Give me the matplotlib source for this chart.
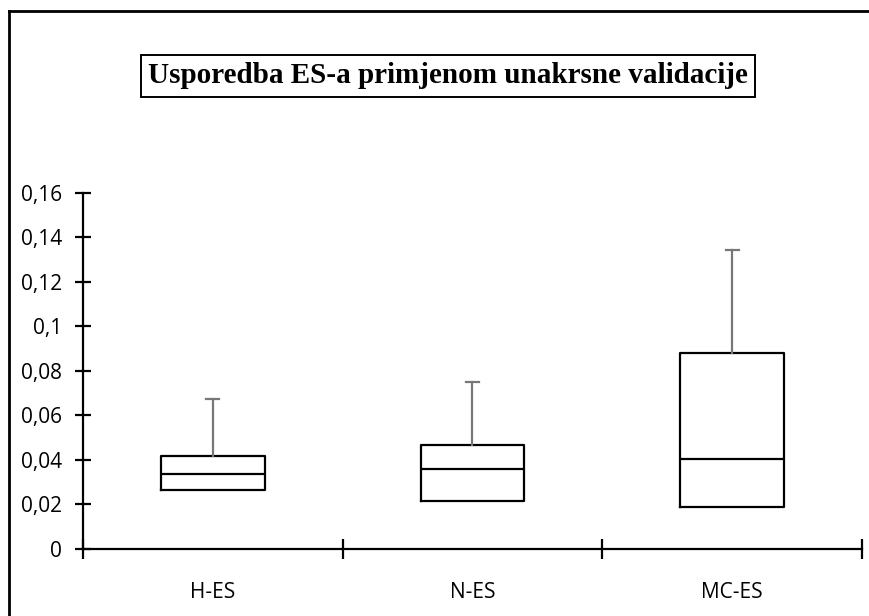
import matplotlib.pyplot as plt
from matplotlib.ticker import FuncFormatter
from matplotlib.lines import Line2D

# data (box = Q1..Q3, median, top whisker)
categories = ["H-ES", "N-ES", "MC-ES"]
q1 = [0.0265, 0.0217, 0.0190]
medians = [0.0337, 0.0360, 0.0404]
q3 = [0.0420, 0.0467, 0.0881]
whisker_top = [0.0674, 0.0750, 0.1344]

fig = plt.figure(figsize=(8.7, 6.16), dpi=100)
ax = fig.add_axes([0.0954, 0.1088, 0.8954, 0.5779])

stats = []
for name, lo, med, hi, top in zip(categories, q1, medians, q3, whisker_top):
    stats.append(dict(label=name, q1=lo, med=med, q3=hi, whislo=lo, whishi=top, fliers=[]))

res = ax.bxp(stats, positions=[1, 2, 3], widths=0.4, showfliers=False, patch_artist=False,
             boxprops=dict(color="black", linewidth=1.6),
             medianprops=dict(color="black", linewidth=1.6),
             whiskerprops=dict(color="#777777", linewidth=1.6),
             capprops=dict(color="#777777", linewidth=1.6),
             capwidths=0.05)
# no lower whiskers/caps in the reference
for w in res["whiskers"][0::2]:
    w.set_visible(False)
for c in res["caps"][0::2]:
    c.set_visible(False)

ax.set_xlim(0.5, 3.5)
ax.set_ylim(0, 0.16)
ax.set_yticks([0, 0.02, 0.04, 0.06, 0.08, 0.1, 0.12, 0.14, 0.16])
ax.yaxis.set_major_formatter(FuncFormatter(lambda v, p: ("%g" % round(v, 2)).replace(".", ",")))
ax.set_xticks([0.5, 1.5, 2.5, 3.5])
ax.set_xticklabels([])
ax.set_xticks([1, 2, 3], minor=True)
ax.set_xticklabels(categories, minor=True)

for s in ["top", "right"]:
    ax.spines[s].set_visible(False)
for s in ["left", "bottom"]:
    ax.spines[s].set_linewidth(1.6)
ax.tick_params(axis="y", direction="inout", length=12, width=1.6, pad=9,
               labelsize=15, labelfontfamily="Open Sans")
ax.tick_params(axis="x", which="major", direction="inout", length=14, width=1.6)
ax.tick_params(axis="x", which="minor", length=0, pad=24, labelsize=15,
               labelfontfamily="Open Sans")

# title in a box
fig.text(0.515, 0.877, "Usporedba ES-a primjenom unakrsne validacije",
         ha="center", va="center", fontsize=21, fontweight="bold",
         family="Liberation Serif",
         bbox=dict(boxstyle="square,pad=0.25", fc="white", ec="black", lw=1.4))

# outer chart border (only left and top visible in the reference)
fig.add_artist(Line2D([0.0098, 0.0098], [0, 0.9821], transform=fig.transFigure, color="black", lw=2))
fig.add_artist(Line2D([0.0098, 1.0], [0.9821, 0.9821], transform=fig.transFigure, color="black", lw=2))

fig.savefig("out.png", dpi=100)
